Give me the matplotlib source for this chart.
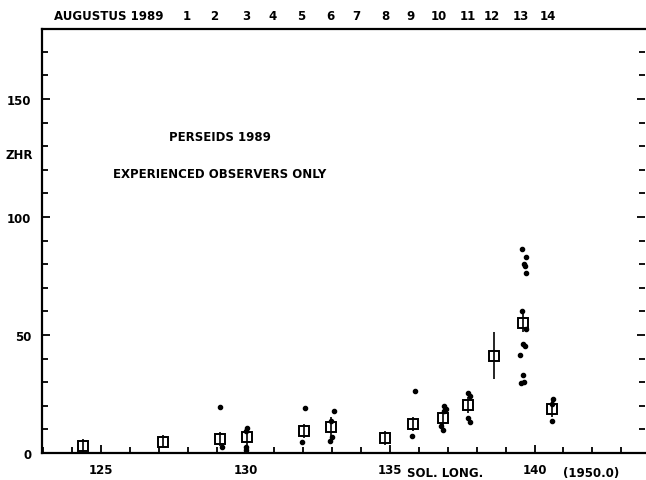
import numpy as np
import matplotlib
matplotlib.use("Agg")
import matplotlib.pyplot as plt

# gemiddelde ZHR per interval (vierkantjes met foutbalk)
sq_long = [124.39, 127.16, 129.12, 130.04, 132.02, 132.96, 134.83,
           135.79, 136.82, 137.71, 138.61, 139.59, 140.60]
sq_zhr = [3.1, 4.8, 5.8, 6.6, 9.5, 11.2, 6.4, 12.3, 14.7, 20.3, 41.3, 55.1, 18.6]
sq_err = [2.8, 2.8, 3.0, 4.0, 3.0, 4.0, 2.8, 3.0, 3.5, 3.5, 10.0, 4.0, 3.5]

# individuele waarnemers (puntjes)
dot_long = [129.12, 129.20,
            130.04, 130.00, 130.00, 130.02,
            132.06, 131.97,
            133.05, 132.96, 133.00, 132.93,
            135.85, 135.75,
            136.88, 136.95, 136.85, 136.75, 136.82,
            137.71, 137.78, 137.68, 137.78,
            139.56, 139.70, 139.62, 139.67, 139.69, 139.56, 139.72,
            139.60, 139.66, 139.50, 139.60, 139.52, 139.62,
            140.65, 140.62, 140.62]
dot_zhr = [19.4, 2.4,
           10.5, 9.3, 2.6, 1.2,
           19.1, 4.5,
           17.9, 13.7, 6.6, 5.2,
           26.1, 7.3,
           19.8, 18.8, 17.9, 11.6, 9.9,
           25.3, 24.3, 14.7, 13.3,
           86.4, 83.2, 80.1, 79.3, 76.3, 60.3, 52.5,
           46.2, 45.5, 41.7, 33.2, 29.5, 30.0,
           22.9, 20.7, 13.7]

# datums (augustus 1989) bovenaan, in zonslengte
day_long = [127.96, 128.91, 130.02, 130.92, 131.92, 132.92, 133.82,
            134.83, 135.69, 136.70, 137.70, 138.53, 139.53, 140.47]
day_labels = [str(d) for d in range(1, 15)]

plt.rcParams['font.family'] = ['DejaVu Sans']
plt.rcParams['font.weight'] = 'bold'
fs = 8.5

fig = plt.figure(figsize=(6.46, 4.81), dpi=100)
ax = fig.add_axes([0.0656, 0.0561, 0.9328, 0.8815])

ax.errorbar(sq_long, sq_zhr, yerr=sq_err, fmt='s', ms=7, mfc='none',
            mec='black', mew=1.4, ecolor='black', elinewidth=1.2, capsize=0, zorder=3)
ax.plot(dot_long, dot_zhr, 'o', color='black', ms=3, zorder=4)

ax.set_xlim(122.97, 143.82)
ax.set_ylim(0, 179.7)

ax.set_xticks([125, 130, 135, 140])
ax.set_xticks(np.arange(123, 144), minor=True)
ax.set_yticks([0, 50, 100, 150])
ax.set_yticks(np.arange(0, 180, 10), minor=True)
ax.tick_params(which='both', direction='in', top=True, right=True, width=1.3,
               labelsize=fs, colors='black')
ax.tick_params(which='major', length=6)
ax.tick_params(which='minor', length=4)
ax.tick_params(axis='x', pad=7)
ax.tick_params(axis='y', pad=8)

for side in ['left', 'bottom', 'top']:
    ax.spines[side].set_linewidth(1.6)
ax.spines['right'].set_visible(False)

# bovenste as: dagen van augustus
top = ax.twiny()
top.set_xlim(ax.get_xlim())
top.set_xticks(day_long)
top.set_xticklabels(day_labels)
top.tick_params(axis='x', length=0, pad=5, labelsize=fs)
for s in top.spines.values():
    s.set_visible(False)

ax.text(123.36, 1.032, "AUGUSTUS 1989", transform=ax.get_xaxis_transform(),
        fontsize=fs, ha='left', va='center')
ax.text(-0.015, 126.7, "ZHR", transform=ax.get_yaxis_transform(),
        fontsize=fs, ha='right', va='center')
ax.text(135.6, -0.045, "SOL. LONG.", transform=ax.get_xaxis_transform(),
        fontsize=fs, ha='left', va='center')
ax.text(141.0, -0.045, "(1950.0)", transform=ax.get_xaxis_transform(),
        fontsize=fs, ha='left', va='center')

ax.text(129.1, 134.3, "PERSEIDS 1989", fontsize=fs, ha='center', va='center')
ax.text(129.1, 118.5, "EXPERIENCED OBSERVERS ONLY", fontsize=fs, ha='center', va='center')

fig.savefig("out.png", dpi=100)
